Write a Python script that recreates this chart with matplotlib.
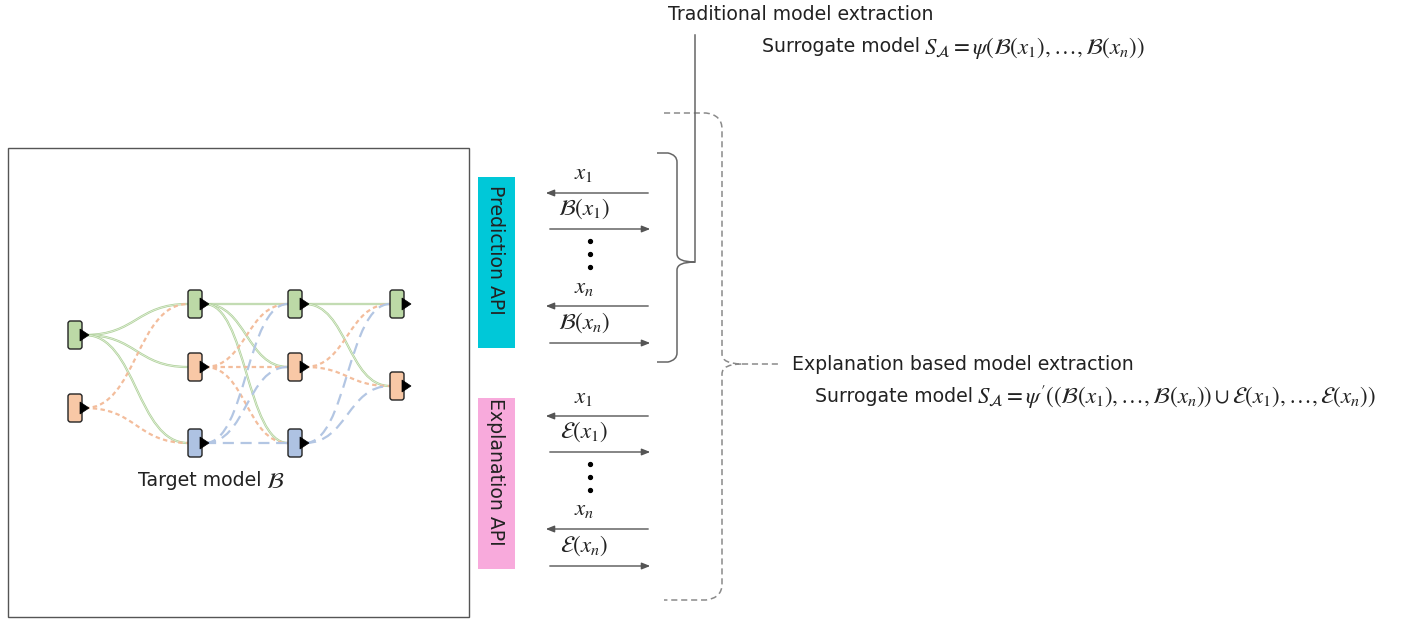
import matplotlib
matplotlib.use("Agg")
import matplotlib.pyplot as plt
from matplotlib.patches import FancyBboxPatch, Polygon, PathPatch, Rectangle
from matplotlib.path import Path

plt.rcParams['mathtext.fontset'] = 'stix'
plt.rcParams['font.family'] = ['DejaVu Sans']

# target network: node centres (pixel coords) and kind
node_x = [75, 75, 195, 195, 195, 295, 295, 295, 397, 397]
node_y = [335, 408, 304, 367, 443, 304, 367, 443, 304, 386]
node_kind = ['g', 'o', 'g', 'o', 'b', 'g', 'o', 'b', 'g', 'o']
edges = [(0, 2), (0, 3), (0, 4), (1, 2), (1, 4),
         (2, 5), (2, 6), (2, 7), (3, 5), (3, 6), (3, 7), (4, 5), (4, 6), (4, 7),
         (5, 8), (5, 9), (6, 8), (6, 9), (7, 8), (7, 9)]

pred_labels = [r'$x_1$', r'$\mathcal{B}(x_1)$', r'$x_n$', r'$\mathcal{B}(x_n)$']
expl_labels = [r'$x_1$', r'$\mathcal{E}(x_1)$', r'$x_n$', r'$\mathcal{E}(x_n)$']

trad_title = 'Traditional model extraction'
trad_formula = r'$S_{\mathcal{A}} = \psi(\mathcal{B}(x_1),\ldots,\mathcal{B}(x_n))$'
expl_title = 'Explanation based model extraction'
expl_formula = (r"$S_{\mathcal{A}} = \psi'((\mathcal{B}(x_1),\ldots,\mathcal{B}(x_n))"
                r" \cup \mathcal{E}(x_1),\ldots,\mathcal{E}(x_n))$")

fill = {'g': '#bcd9a6', 'o': '#f8c8a6', 'b': '#aec2e2'}
edge_col = {'g': '#afd19a', 'o': '#f3bd9c', 'b': '#b3c6e3'}
edge_ls = {'g': '-', 'o': (0, (2, 1.5)), 'b': (0, (5, 3))}

TXT = 13.6
MATH = 16.5
INK = '#222222'

fig = plt.figure(figsize=(14.06, 6.21), dpi=100)
ax = fig.add_axes([0, 0, 1, 1])
ax.set_xlim(0, 1406)
ax.set_ylim(621, 0)
ax.axis('off')

# outer frame of target model
ax.add_patch(Rectangle((8, 148), 461, 469, fill=False, ec='#555555', lw=1))

# edges
for s, t in edges:
    x0, y0 = node_x[s] + 10, node_y[s]
    x1, y1 = node_x[t] - 7, node_y[t]
    xm = (x0 + x1) / 2
    p = Path([(x0, y0), (xm, y0), (xm, y1), (x1, y1)],
             [Path.MOVETO, Path.CURVE4, Path.CURVE4, Path.CURVE4])
    k = node_kind[s]
    ax.add_patch(PathPatch(p, fill=False, ec=edge_col[k], lw=1.6, ls=edge_ls[k], zorder=2))
    if k == 'g':
        ax.add_patch(PathPatch(p, fill=False, ec='#e9f3e2', lw=0.5, zorder=2))

# nodes
for x, y, k in zip(node_x, node_y, node_kind):
    ax.add_patch(FancyBboxPatch((x - 6, y - 13), 12, 26, boxstyle='round,pad=1,rounding_size=2.5',
                                fc=fill[k], ec='#222222', lw=1, zorder=3))
    ax.add_patch(Polygon([(x + 5, y - 6), (x + 5, y + 6), (x + 14, y)], closed=True,
                         fc='black', ec='black', lw=0.5, zorder=4))

# API boxes
ax.add_patch(Rectangle((478, 177), 37, 171, fc='#00c8d8', ec='none'))
ax.text(496, 250, 'Prediction API', rotation=-90, ha='center', va='center', fontsize=TXT, color=INK)
ax.add_patch(Rectangle((478, 398), 37, 171, fc='#f8aadc', ec='none'))
ax.text(496, 472, 'Explanation API', rotation=-90, ha='center', va='center', fontsize=TXT, color=INK)


def messages(labels, y_top):
    ys = [y_top, y_top + 36, y_top + 113, y_top + 150]
    for i, (lab, y) in enumerate(zip(labels, ys)):
        ax.text(584, y - 20, lab, ha='center', va='center', fontsize=MATH, color=INK)
        if i % 2 == 0:
            ax.annotate('', xy=(543, y), xytext=(651, y),
                        arrowprops=dict(arrowstyle='-|>,head_length=0.5,head_width=0.2', color='#555555', lw=1))
        else:
            ax.annotate('', xy=(653, y), xytext=(547, y),
                        arrowprops=dict(arrowstyle='-|>,head_length=0.5,head_width=0.2', color='#555555', lw=1))
    for d in range(3):
        ax.plot(590, y_top + 48 + 13 * d, 'o', ms=2.8, color='black')


messages(pred_labels, 193)
messages(expl_labels, 416)


def brace(x_left, x_mid, x_tip, y_top, y_cusp, y_bot, r, c, **kw):
    verts = [(x_left, y_top), (x_mid - r, y_top), (x_mid, y_top + 2), (x_mid, y_top + r),
             (x_mid, y_cusp - c), (x_mid, y_cusp), (x_tip, y_cusp),
             (x_mid, y_cusp), (x_mid, y_cusp + c),
             (x_mid, y_bot - r), (x_mid, y_bot - 2), (x_mid - r, y_bot), (x_left, y_bot)]
    codes = [Path.MOVETO, Path.LINETO, Path.CURVE3, Path.CURVE3,
             Path.LINETO, Path.CURVE3, Path.CURVE3,
             Path.CURVE3, Path.CURVE3,
             Path.LINETO, Path.CURVE3, Path.CURVE3, Path.LINETO]
    ax.add_patch(PathPatch(Path(verts, codes), fill=False, **kw))


brace(657, 677, 695, 153, 262, 362, 9, 8, ec='#666666', lw=1.1)
ax.plot([695, 695], [262, 35], color='#666666', lw=1.1)

brace(664, 722, 742, 113, 364, 600, 16, 10, ec='#8a8a8a', lw=1.1, ls=(0, (4, 2.5)))
ax.plot([742, 780], [364, 364], color='#8a8a8a', lw=1.1, ls=(0, (4, 2.5)))

renderer = fig.canvas.get_renderer()


def text_then_math(x, y, words, math):
    t = ax.text(x, y, words, ha='left', va='center', fontsize=TXT, color=INK)
    x_end = t.get_window_extent(renderer).x1
    ax.text(x_end + 4, y + 1, math, ha='left', va='center', fontsize=MATH, color=INK)


text_then_math(138, 481, 'Target model', r'$\mathcal{B}$')
ax.text(668, 15, trad_title, ha='left', va='center', fontsize=TXT, color=INK)
text_then_math(762, 47, 'Surrogate model', trad_formula)
ax.text(792, 365, expl_title, ha='left', va='center', fontsize=TXT, color=INK)
text_then_math(815, 396, 'Surrogate model', expl_formula)

fig.savefig('out.png', dpi=100)
